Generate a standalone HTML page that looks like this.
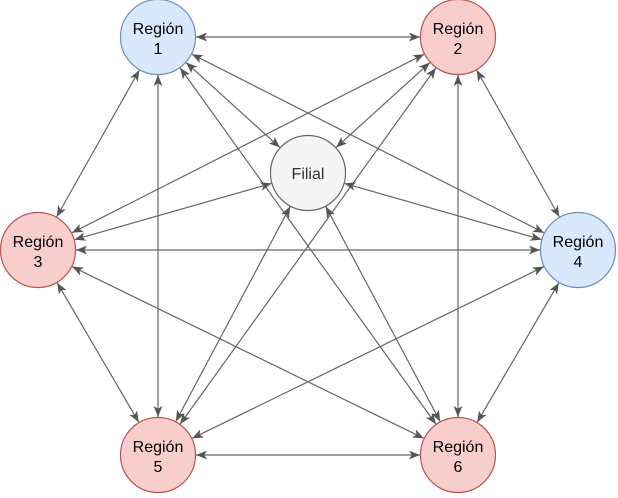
<!DOCTYPE html>
<html><head><meta charset="utf-8"><style>
html,body{margin:0;padding:0;background:#fff;}
svg{display:block;}
text{font-family:"Liberation Sans",sans-serif;font-size:16px;fill:#000;text-anchor:middle;}
</style></head><body>
<svg id="s" width="618" height="498" viewBox="0 0 618 498" xmlns="http://www.w3.org/2000/svg">
<defs>
<marker id="a" viewBox="0 0 10 10" refX="10" refY="5" markerWidth="11" markerHeight="11" markerUnits="userSpaceOnUse" orient="auto-start-reverse">
<path d="M0,1 L10,5 L0,9 L2.5,5 Z" fill="#555"/>
</marker>
</defs>
<g id="edges" stroke="#666" stroke-width="1.2" fill="none"></g>
<g stroke-width="1.2">
<circle cx="158" cy="37" r="37.5" fill="#dae8fc" stroke="#6c8ebf"/>
<circle cx="458" cy="37" r="37.5" fill="#f8cecc" stroke="#b85450"/>
<circle cx="38" cy="250" r="37.5" fill="#f8cecc" stroke="#b85450"/>
<circle cx="578" cy="250" r="37.5" fill="#dae8fc" stroke="#6c8ebf"/>
<circle cx="158" cy="455" r="37.5" fill="#f8cecc" stroke="#b85450"/>
<circle cx="458" cy="455" r="37.5" fill="#f8cecc" stroke="#b85450"/>
<circle cx="308" cy="173" r="37.5" fill="#f5f5f5" stroke="#666"/>
</g>
<text x="158" y="34">Región</text><text x="158" y="54">1</text>
<text x="458" y="34">Región</text><text x="458" y="54">2</text>
<text x="38" y="247">Región</text><text x="38" y="267">3</text>
<text x="578" y="247">Región</text><text x="578" y="267">4</text>
<text x="158" y="452">Región</text><text x="158" y="472">5</text>
<text x="458" y="452">Región</text><text x="458" y="472">6</text>
<text x="308" y="179" style="fill:#333">Filial</text>
</svg>
<script>
var n=[[158,37],[458,37],[38,250],[578,250],[158,455],[458,455],[308,173]];
var r=38,g=document.getElementById('edges'),ns='http://www.w3.org/2000/svg';
for(var i=0;i<n.length;i++)for(var j=i+1;j<n.length;j++){
var a=n[i],b=n[j],dx=b[0]-a[0],dy=b[1]-a[1],d=Math.sqrt(dx*dx+dy*dy),ux=dx/d,uy=dy/d;
var l=document.createElementNS(ns,'line');
l.setAttribute('x1',a[0]+ux*r);l.setAttribute('y1',a[1]+uy*r);
l.setAttribute('x2',b[0]-ux*r);l.setAttribute('y2',b[1]-uy*r);
l.setAttribute('marker-start','url(#a)');l.setAttribute('marker-end','url(#a)');
g.appendChild(l);}
</script>
</body></html>
